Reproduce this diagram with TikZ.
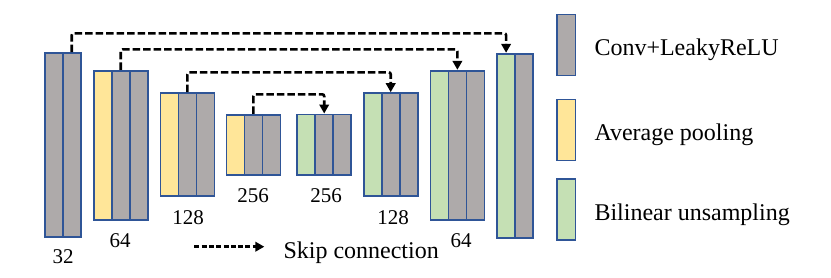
\documentclass[tikz,border=0pt]{standalone}
\usepackage{fontspec}
\setmainfont{Liberation Serif}
\usetikzlibrary{arrows.meta}
\definecolor{convgray}{HTML}{AEAAAA}
\definecolor{poolyellow}{HTML}{FFE699}
\definecolor{upgreen}{HTML}{C5E0B4}
\definecolor{edgeblue}{HTML}{2F5597}
\begin{document}
\begin{tikzpicture}[x=1pt,y=-1pt,
  col/.style={draw=edgeblue, line width=1.8pt, inner sep=0pt, minimum width=18pt, anchor=north west},
  conv/.style={col, fill=convgray},
  pool/.style={col, fill=poolyellow},
  upl/.style={col, fill=upgreen},
  hA/.style={minimum height=184pt},
  hB/.style={minimum height=149pt},
  hC/.style={minimum height=103pt},
  hD/.style={minimum height=60.5pt},
  hL/.style={minimum height=61pt},
  num/.style={inner sep=0pt, anchor=base, font=\fontsize{21}{25}\selectfont},
  legtext/.style={inner sep=0pt, anchor=base west, font=\fontsize{24}{28}\selectfont},
  skip/.style={line width=2.6pt, dash pattern=on 7.5pt off 3pt, rounded corners=2pt, -{Triangle[length=9pt,width=9.5pt]}},
  skipleg/.style={skip, dash pattern=on 5pt off 2.3pt}
]
\useasboundingbox (0,0) rectangle (831,277);
% encoder
\node[conv,hA] (b1c1) at (43.8,52.2) {};
\node[conv,hA] (b1c2) at (61.8,52.2) {};
\node[pool,hB] (b2c1) at (92.8,69.8) {};
\node[conv,hB] (b2c2) at (110.8,69.8) {};
\node[conv,hB] (b2c3) at (128.8,69.8) {};
\node[pool,hC] (b3c1) at (159.5,92.2) {};
\node[conv,hC] (b3c2) at (177.5,92.2) {};
\node[conv,hC] (b3c3) at (195.5,92.2) {};
\node[pool,hD] (b4c1) at (225.5,113.8) {};
\node[conv,hD] (b4c2) at (243.5,113.8) {};
\node[conv,hD] (b4c3) at (261.5,113.8) {};
% decoder
\node[upl,hD] (b5c1) at (296.3,113.5) {};
\node[conv,hD] (b5c2) at (314.3,113.5) {};
\node[conv,hD] (b5c3) at (332.3,113.5) {};
\node[upl,hC] (b6c1) at (362.8,92.2) {};
\node[conv,hC] (b6c2) at (380.8,92.2) {};
\node[conv,hC] (b6c3) at (398.8,92.2) {};
\node[upl,hB] (b7c1) at (429.5,69.8) {};
\node[conv,hB] (b7c2) at (447.5,69.8) {};
\node[conv,hB] (b7c3) at (465.5,69.8) {};
\node[upl,hA] (b8c1) at (496.2,52.8) {};
\node[conv,hA] (b8c2) at (514.2,52.8) {};
% labels
\node[num] (l32) at (63,263.3) {32};
\node[num] (l64a) at (120,247.7) {64};
\node[num] (l128a) at (188,224) {128};
\node[num] (l256a) at (253,202.7) {256};
\node[num] (l256b) at (326,202.7) {256};
\node[num] (l128b) at (393,224) {128};
\node[num] (l64b) at (461,247.7) {64};
% skip connections
\draw[skip] (b1c2.north) -- (b1c2.north |- 0,33.3) -| (b8c1.north);
\draw[skip] (b2c2.north) -- (b2c2.north |- 0,49.3) -| (b7c2.north);
\draw[skip] (b3c2.north) -- (b3c2.north |- 0,72.3) -| (b6c2.north);
\draw[skip] (b4c2.north) -- (b4c2.north |- 0,94.3) -| (b5c2.north);
% legend
\coordinate (ska) at (194.3,246.7);
\coordinate (skb) at (264.3,246.7);
\draw[skipleg] (ska) -- (skb);
\node[legtext] (sktext) at (283.3,258.3) {Skip connection};
\node[conv,minimum width=18.6pt,hL] (lg1) at (556,13.6) {};
\node[pool,minimum width=18.6pt,hL] (lg2) at (556,98.6) {};
\node[upl,minimum width=18.6pt,hL] (lg3) at (556,178) {};
\node[legtext] (lt1) at (594.3,55) {Conv+LeakyReLU};
\node[legtext] (lt2) at (594.3,140) {Average pooling};
\node[legtext] (lt3) at (594.3,220) {Bilinear unsampling};
\end{tikzpicture}
\end{document}
